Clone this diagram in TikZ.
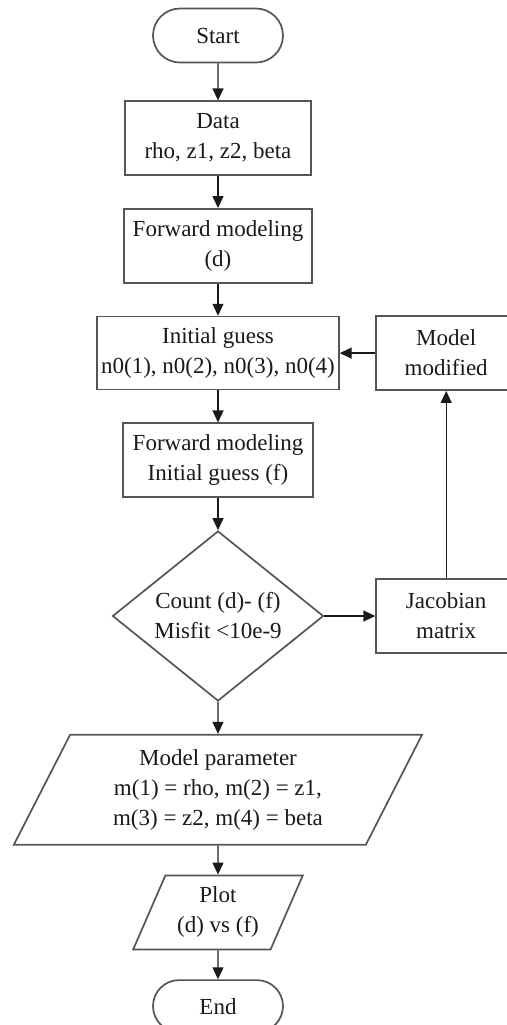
\documentclass[tikz,border=0pt]{standalone}
\usepackage{fontspec}
\setmainfont{Liberation Serif}
\usetikzlibrary{arrows.meta,positioning,shapes.geometric,shapes.misc}
\definecolor{ink}{HTML}{1A1A1A}
\definecolor{edge}{HTML}{555555}
\tikzset{
  every node/.style={font=\fontsize{11.5}{15}\selectfont, text=ink},
  box/.style={draw=edge, line width=0.85pt, fill=white, align=center, inner sep=2pt, minimum height=37pt},
  terminal/.style={box, rounded rectangle, minimum width=69pt, minimum height=27pt},
  decision/.style={box, diamond, aspect=1.25, inner sep=0pt, minimum width=105.5pt, minimum height=85pt},
  iobox/.style={box, trapezium, trapezium left angle=65, trapezium right angle=115, trapezium stretches=true},
  arrow/.style={-{Triangle[length=6pt,width=5.5pt]}, line width=0.65pt, draw=ink},
}
\begin{document}
\begin{tikzpicture}
\useasboundingbox (0,0) rectangle (253.5pt,-512.5pt);
\node[terminal] (start) at (109pt,-17.75pt) {Start};
\node[box, below=18.5pt of start, minimum width=93pt] (data) {Data\\rho, z1, z2, beta};
\node[box, below=16pt of data, minimum width=94pt] (fwd) {Forward modeling\\(d)};
\node[box, below=16pt of fwd, minimum width=119pt, minimum height=36.5pt] (init) {Initial guess\\n0(1), n0(2), n0(3), n0(4)};
\node[box, below=16pt of init, minimum width=95pt] (fwdinit) {Forward modeling\\Initial guess (f)};
\node[decision, below=16pt of fwdinit] (misfit) {Count (d)- (f)\\Misfit <10e-9};
\node[box, right=25.5pt of misfit, minimum width=70pt] (jac) {Jacobian\\matrix};
\node[box, minimum width=70pt] (modif) at (jac |- init) {Model\\modified};
\node[iobox, below=16pt of misfit, minimum width=204.5pt, minimum height=55pt] (param) {Model parameter\\m(1) = rho, m(2) = z1,\\m(3) = z2, m(4) = beta};
\node[iobox, below=14.5pt of param, minimum width=85pt] (plot) {Plot\\(d) vs (f)};
\node[terminal, below=14.5pt of plot, minimum height=26pt] (end) {End};
\draw[arrow](start)--(data);\draw[arrow](data)--(fwd);\draw[arrow](fwd)--(init);\draw[arrow](init)--(fwdinit);\draw[arrow](fwdinit)--(misfit);
\draw[arrow](misfit)--(jac);\draw[arrow](jac)--(modif);\draw[arrow](modif)--(init);
\draw[arrow](misfit)--(param);\draw[arrow](param)--(plot);\draw[arrow](plot)--(end);
\end{tikzpicture}
\end{document}
